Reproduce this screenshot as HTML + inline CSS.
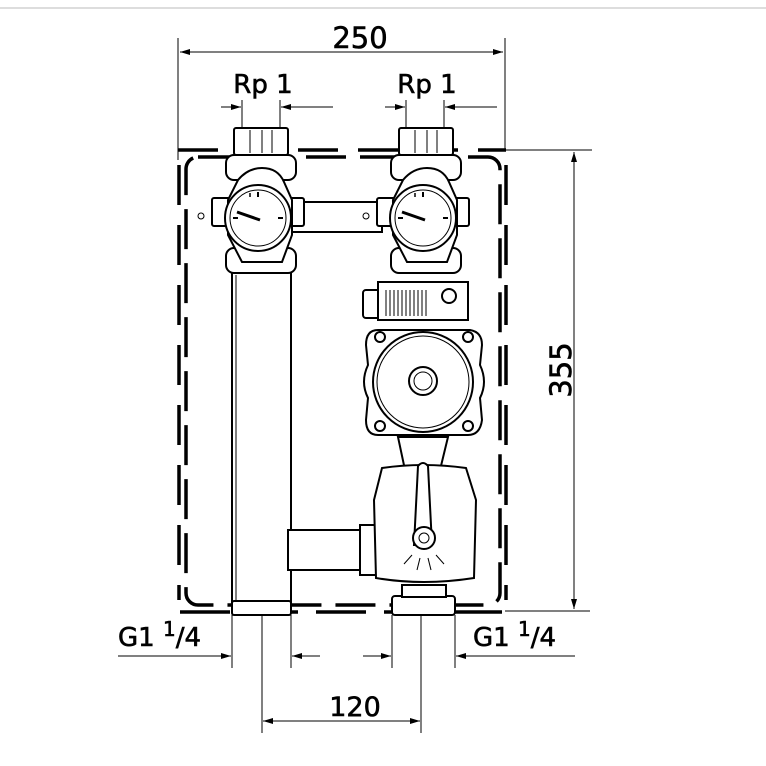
<!DOCTYPE html>
<html><head><meta charset="utf-8"><style>
html,body{margin:0;padding:0;background:#fff;}
svg{display:block;}
text{font-family:"DejaVu Sans","Liberation Sans",sans-serif;fill:#000;stroke:#000;stroke-width:0.6;}
</style></head><body>
<svg width="766" height="766" viewBox="0 0 766 766" xmlns="http://www.w3.org/2000/svg">
<defs>
<marker id="a" viewBox="0 0 10 6" refX="10" refY="3" markerWidth="10" markerHeight="6" orient="auto" markerUnits="userSpaceOnUse"><path d="M0,0L10,3L0,6z" fill="#000"/></marker>
</defs>
<line x1="0" y1="8" x2="766" y2="8" stroke="#ddd" stroke-width="2"/>
<g stroke="#000" stroke-width="1" fill="none">
<line x1="178" y1="38" x2="178" y2="160"/>
<line x1="505" y1="38" x2="505" y2="150"/>
<line x1="200" y1="52" x2="180" y2="52" marker-end="url(#a)"/>
<line x1="200" y1="52" x2="503" y2="52" marker-end="url(#a)"/>
<line x1="242" y1="100" x2="242" y2="130"/><line x1="280" y1="100" x2="280" y2="130"/>
<line x1="221" y1="107" x2="241" y2="107" marker-end="url(#a)"/>
<line x1="333" y1="107" x2="281" y2="107" marker-end="url(#a)"/>
<line x1="406" y1="100" x2="406" y2="130"/><line x1="444" y1="100" x2="444" y2="130"/>
<line x1="385" y1="107" x2="405" y2="107" marker-end="url(#a)"/>
<line x1="497" y1="107" x2="445" y2="107" marker-end="url(#a)"/>
<line x1="505" y1="150" x2="592" y2="150"/>
<line x1="505" y1="611" x2="590" y2="611"/>
<line x1="574" y1="380" x2="574" y2="152" marker-end="url(#a)"/>
<line x1="574" y1="380" x2="574" y2="609" marker-end="url(#a)"/>
<line x1="232" y1="615" x2="232" y2="668"/><line x1="291" y1="615" x2="291" y2="668"/>
<line x1="392" y1="615" x2="392" y2="668"/><line x1="455" y1="615" x2="455" y2="668"/>
<line x1="262" y1="615" x2="262" y2="733"/><line x1="421" y1="615" x2="421" y2="733"/>
<line x1="118" y1="656" x2="231" y2="656" marker-end="url(#a)"/>
<line x1="320" y1="656" x2="292" y2="656" marker-end="url(#a)"/>
<line x1="363" y1="656" x2="391" y2="656" marker-end="url(#a)"/>
<line x1="575" y1="656" x2="456" y2="656" marker-end="url(#a)"/>
<line x1="340" y1="721" x2="263" y2="721" marker-end="url(#a)"/>
<line x1="340" y1="721" x2="420" y2="721" marker-end="url(#a)"/>
</g>
<g stroke="#000" stroke-width="3.5" fill="none">
<rect x="186" y="157" width="314" height="448" rx="12" stroke-dasharray="40,14"/>
<line x1="178" y1="150" x2="506" y2="150" stroke-dasharray="40,20"/>
<line x1="179" y1="165" x2="179" y2="600" stroke-dasharray="40,20"/>
<line x1="506" y1="165" x2="506" y2="600" stroke-dasharray="40,20"/>
<line x1="180" y1="612" x2="506" y2="612" stroke-dasharray="50,18"/>
</g>
<g stroke="#000" stroke-width="2" fill="#fff">
<rect x="290" y="202" width="92" height="30"/>
<rect x="232" y="270" width="59" height="333"/>
<line x1="236" y1="275" x2="236" y2="600" stroke-width="1"/>
<rect x="288" y="530" width="72" height="40"/>
<rect x="360" y="525" width="18" height="50"/>
<rect x="232" y="601" width="59" height="14" rx="2"/>
<rect x="392" y="596" width="63" height="19" rx="3"/>
<rect x="402" y="585" width="44" height="12"/>
<g id="v">
<rect x="234" y="128" width="54" height="27" rx="2"/>
<rect x="226" y="155" width="70" height="25" rx="8"/>
<rect x="212" y="198" width="18" height="28" rx="2"/>
<rect x="286" y="198" width="18" height="28" rx="2"/>
<rect x="226" y="248" width="70" height="25" rx="8"/>
<path d="M238,180 Q248,168 262,168 Q278,168 284,182 L292,200 L292,235 L282,262 L242,262 L228,235 L228,200 Z"/>
<circle cx="258" cy="218" r="33"/>
<circle cx="258" cy="218" r="28" stroke-width="1"/>
<line x1="237" y1="212" x2="260" y2="220" stroke-width="3"/>
<line x1="250" y1="193" x2="250" y2="197" stroke-width="1.5"/>
<line x1="258" y1="192" x2="258" y2="197" stroke-width="2"/>
<line x1="233" y1="218" x2="238" y2="218" stroke-width="2"/>
<line x1="278" y1="218" x2="283" y2="218" stroke-width="2"/>
<circle cx="201" cy="216" r="3" stroke-width="1"/>
<line x1="262" y1="130" x2="262" y2="153" stroke-width="1"/>
<line x1="250" y1="130" x2="250" y2="153" stroke-width="1"/>
<line x1="272" y1="130" x2="272" y2="153" stroke-width="1"/>
</g>
<use href="#v" x="165"/>
<rect x="363" y="290" width="18" height="28" rx="3"/>
<rect x="378" y="282" width="90" height="38"/>
<circle cx="449" cy="296" r="7"/>
<g stroke-width="1">
<line x1="386" y1="290" x2="386" y2="316"/><line x1="390" y1="290" x2="390" y2="316"/><line x1="394" y1="290" x2="394" y2="316"/><line x1="398" y1="290" x2="398" y2="316"/><line x1="402" y1="290" x2="402" y2="316"/><line x1="406" y1="290" x2="406" y2="316"/><line x1="410" y1="290" x2="410" y2="316"/><line x1="414" y1="290" x2="414" y2="316"/><line x1="418" y1="290" x2="418" y2="316"/><line x1="422" y1="290" x2="422" y2="316"/><line x1="426" y1="290" x2="426" y2="316"/>
</g>
<path d="M378,330 L470,330 Q482,332 482,345 L480,365 Q488,382 480,398 L482,420 Q480,435 468,435 L378,435 Q366,435 366,420 L368,398 Q360,382 368,365 L366,345 Q366,330 378,330 Z"/>
<circle cx="423" cy="382" r="50"/>
<circle cx="423" cy="382" r="46" stroke-width="1"/>
<circle cx="423" cy="381" r="14"/>
<circle cx="423" cy="381" r="9" stroke-width="1"/>
<circle cx="380" cy="337" r="5"/><circle cx="468" cy="337" r="5"/>
<circle cx="380" cy="426" r="5"/><circle cx="468" cy="426" r="5"/>
<path d="M398,437 L448,437 L440,470 L405,470 Z"/>
<path d="M382,468 Q423,462 466,468 L476,500 L474,578 Q423,586 376,578 L374,500 Z"/>
<path d="M418,466 Q423,460 428,466 L432,545 L414,545 Z"/>
<circle cx="424" cy="538" r="11"/>
<circle cx="424" cy="538" r="5" stroke-width="1"/>
<g stroke-width="1"><line x1="412" y1="555" x2="404" y2="564"/><line x1="420" y1="558" x2="417" y2="570"/><line x1="428" y1="558" x2="431" y2="570"/><line x1="436" y1="555" x2="444" y2="564"/></g>
</g>
<text x="360" y="48" font-size="29" text-anchor="middle">250</text>
<text x="263" y="93" font-size="26" text-anchor="middle">Rp 1</text>
<text x="427" y="93" font-size="26" text-anchor="middle">Rp 1</text>
<text x="0" y="0" font-size="29" text-anchor="middle" transform="translate(571,370) rotate(-90)">355</text>
<text x="118" y="646" font-size="26">G1 <tspan dy="-10" font-size="20">1</tspan><tspan dy="10">/4</tspan></text>
<text x="473" y="646" font-size="26">G1 <tspan dy="-10" font-size="20">1</tspan><tspan dy="10">/4</tspan></text>
<text x="355" y="716" font-size="27" text-anchor="middle">120</text>
</svg>
</body></html>
